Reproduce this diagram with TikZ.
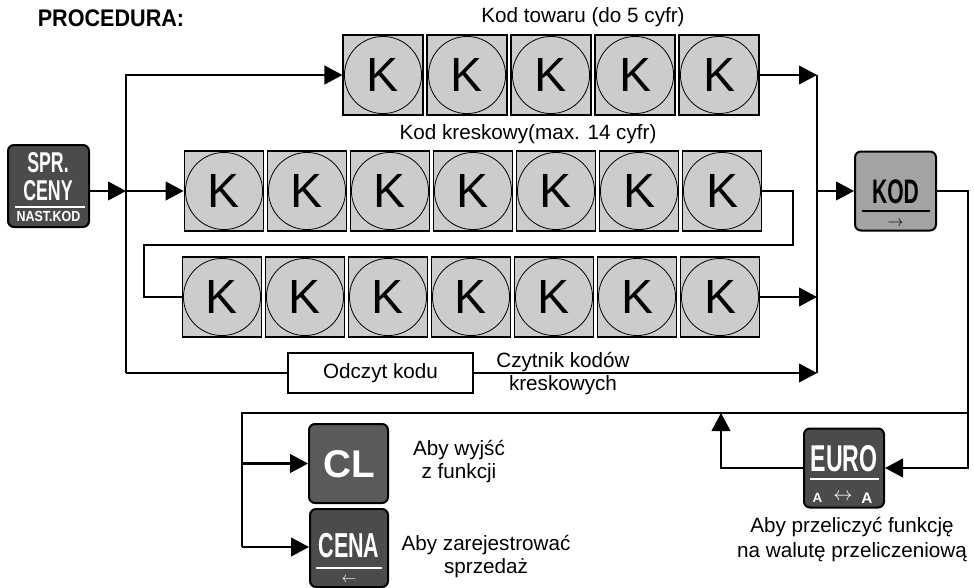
\documentclass[tikz,border=0pt]{standalone}
\usepackage{fontspec}
\setmainfont{Liberation Sans}
\newfontfamily\keyfont{Liberation Sans}[FakeStretch=0.62]
\newfontfamily\keyfontb{Liberation Sans}[FakeStretch=0.85]
\newfontfamily\procfont{Liberation Sans}[FakeStretch=0.9]
\usetikzlibrary{arrows.meta}
\definecolor{kgray}{HTML}{CCCCCC}
\definecolor{dkey}{HTML}{4B4B4B}
\definecolor{mkey}{HTML}{5A5A5A}
\definecolor{lkey}{HTML}{A3A3A3}
\begin{document}
\begin{tikzpicture}[x=0.75pt,y=-0.75pt,
  conn/.style={line width=1.6pt},
  arr/.style={conn,-{Triangle[length=13.5pt,width=14pt]}},
  kbox/.style={draw,line width=1.3pt,fill=kgray,minimum width=59.5pt,minimum height=60pt,inner sep=0pt,
    path picture={\draw[line width=0.6pt] (path picture bounding box.center) circle[radius=28.9pt];},
    font=\fontsize{36}{36}\selectfont},
  keybox/.style={draw,line width=1.5pt,rounded corners=4.5pt,minimum width=60pt,minimum height=60pt,inner sep=0pt},
  keytxt/.style={text=white,inner sep=0pt},
  lbl/.style={align=center,inner sep=0pt},
]
\useasboundingbox (0,0) rectangle (974,587);

% title
\node[inner sep=0pt,font=\procfont\bfseries\fontsize{18}{18}\selectfont] (proc) at (111,18) {PROCEDURA:};

% rows of K keys
\foreach \i in {1,...,5} \node[kbox] (a\i) at ({383+84*(\i-1)},75) {K};
\foreach \i in {1,...,7} \node[kbox,minimum width=59.25pt] (b\i) at ({224+83*(\i-1)},191) {K};
\foreach \i in {1,...,7} \node[kbox,minimum width=59.25pt] (c\i) at ({222+83*(\i-1)},297) {K};

% labels
\node[lbl,font=\fontsize{15.5}{17}\selectfont] (lt) at (583,17) {Kod towaru (do 5 cyfr)};
\node[lbl,font=\fontsize{15.5}{17}\selectfont] (lk) at (528,134) {Kod kreskowy(max. 14 cyfr)};

% SPR key
\node[keybox,fill=dkey,minimum width=60.75pt,minimum height=61.5pt] (spr) at (48.5,186) {};
\node[keytxt,font=\keyfont\bfseries\fontsize{21.5}{21.5}\selectfont] (spr1) at (48,163) {SPR.};
\node[keytxt,font=\keyfont\bfseries\fontsize{21.5}{21.5}\selectfont] (spr2) at (48,191) {CENY};
\draw[white,line width=0.9pt] (15,207) -- (85,207);
\node[keytxt,font=\keyfontb\bfseries\fontsize{11}{11}\selectfont] (spr3) at (48.5,216) {NAST.KOD};

% Odczyt box
\node[draw,line width=1.3pt,fill=white,minimum width=138.75pt,minimum height=30pt,inner sep=0pt,font=\fontsize{15.5}{17}\selectfont] (odc) at (380.5,373) {Odczyt kodu};
\node[lbl,font=\fontsize{15.5}{17.25}\selectfont] (lcz) at (563,374) {Czytnik kodów\\kreskowych};

% KOD key
\node[keybox,fill=lkey,minimum width=60.75pt,minimum height=59.25pt] (kod) at (895.5,191) {};
\node[inner sep=0pt,font=\keyfont\bfseries\fontsize{25.5}{25.5}\selectfont] (kodt) at (895.5,192) {KOD};
\draw[line width=0.8pt] (862,211) -- (930,211);
\node[inner sep=0pt,font=\fontsize{13}{13}\selectfont] (koda) at (895.5,224) {$\rightarrow$};

% EURO key
\node[keybox,fill=dkey,minimum width=60pt,minimum height=59.25pt] (euro) at (844,468) {};
\node[keytxt,font=\keyfont\bfseries\fontsize{28}{28}\selectfont] (eurot) at (844,458.5) {EURO};
\draw[white,line width=0.9pt] (810,479) -- (879,479);
\node[keytxt,font=\bfseries\fontsize{10}{10}\selectfont] (eua1) at (817.5,498) {A};
\node[keytxt,font=\fontsize{15}{15}\selectfont] (eua2) at (843,497) {$\leftrightarrow$};
\node[keytxt,font=\bfseries\fontsize{11.5}{11.5}\selectfont] (eua3) at (867,498) {A};
\node[lbl,font=\fontsize{15.5}{18.75}\selectfont] (leu) at (852,540) {Aby przeliczyć funkcję\\na walutę przeliczeniową};

% CL key
\node[keybox,fill=mkey,minimum width=59.25pt,minimum height=59.25pt] (cl) at (348.5,463.5) {};
\node[keytxt,font=\bfseries\fontsize{29}{29}\selectfont] (clt) at (349.5,464) {CL};
\node[lbl,font=\fontsize{15.5}{17.25}\selectfont] (lcl) at (459,462) {Aby wyjść\\z funkcji};

% CENA key
\node[keybox,fill=dkey,minimum width=58.5pt,minimum height=58.5pt] (cena) at (349,548) {};
\node[keytxt,font=\keyfont\bfseries\fontsize{26}{26}\selectfont] (cenat) at (349,546) {CENA};
\draw[white,line width=0.9pt] (316,568) -- (382,568);
\node[keytxt,font=\fontsize{11}{11}\selectfont] (cenaa) at (349,580) {$\leftarrow$};
\node[lbl,font=\fontsize{15.5}{17.25}\selectfont] (lce) at (486,557) {Aby zarejestrować\\sprzedaż};

% junction coordinates
\coordinate (tl) at (126,75);
\coordinate (tm) at (126,191);
\coordinate (tb) at (126,373);
\coordinate (mt) at (817,75);
\coordinate (mk) at (817,191);
\coordinate (m3) at (817,297);
\coordinate (mb) at (817,373);
\coordinate (lr) at (793,245);
\coordinate (ll) at (144,245);
\coordinate (kr) at (968,191);
\coordinate (kh) at (968,413);
\coordinate (ke) at (968,468);
\coordinate (hl) at (242,413);
\coordinate (hb) at (242,547);
\coordinate (eu) at (721,413);

% connectors
\draw[arr] (spr.east |- tm) -- (tm);
\draw[arr] (tm) -- (b1.west);
\draw[arr] (tb) -- (tl) -- (a1.west);
\draw[conn] (tb) -- (odc.west);
\draw[arr] (odc.east) -- (mb);
\draw[arr] (a5.east) -- (mt);
\draw[conn] (b7.east) -| (lr) -- (ll) |- (c1.west);
\draw[arr] (c7.east) -- (m3);
\draw[conn] (mt) -- (mb);
\draw[arr] (mk) -- (kod.west);
\draw[arr] (kod.east) -- (kr) -- (ke) -- (euro.east);
\draw[arr] (euro.west) -| (eu);
\draw[conn] (kh) -- (hl) -- (hb);
\draw[arr] (hl |- cl) -- (cl.west);
\draw[arr] (hb) -- (cena.west |- hb);
\end{tikzpicture}
\end{document}
